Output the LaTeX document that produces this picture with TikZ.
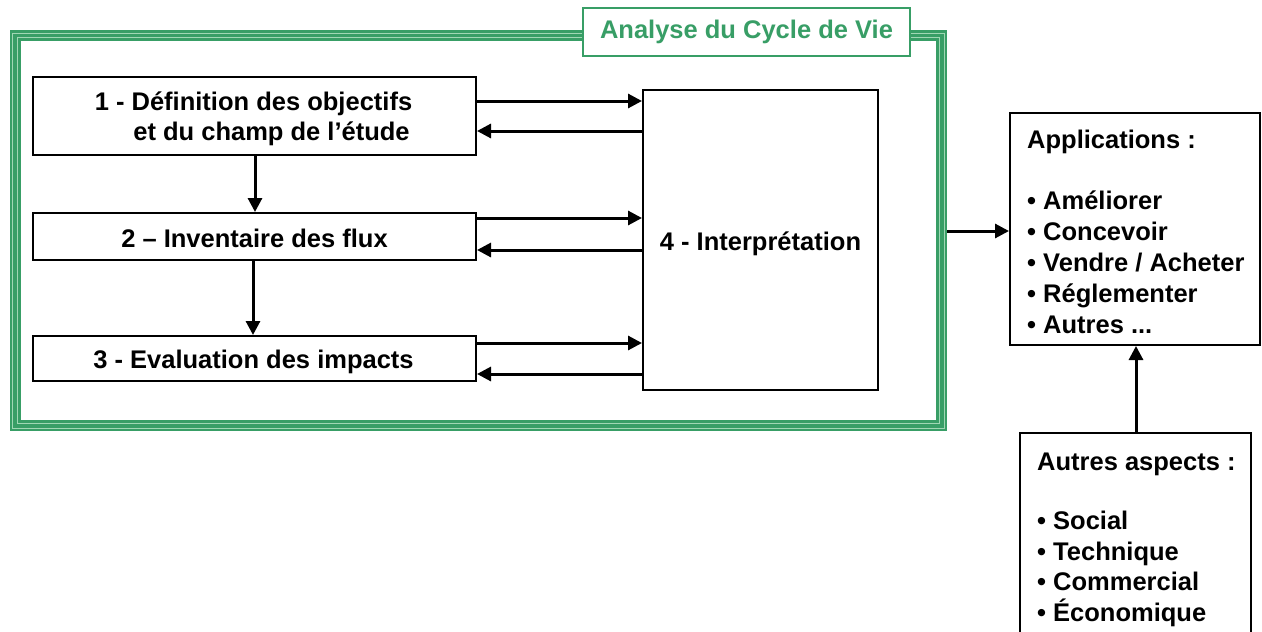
\documentclass[tikz,border=0pt]{standalone}
\usepackage{fontspec}
\setmainfont{Liberation Sans}
\usetikzlibrary{arrows.meta}
\definecolor{acvgreen}{RGB}{56,158,102}
\definecolor{acvlight}{RGB}{160,215,180}
\begin{document}
\begin{tikzpicture}[x=1pt,y=-1pt,
 box/.style={draw=black,line width=2pt,inner sep=0pt,fill=white},
 txt/.style={font=\fontsize{25.5}{31}\selectfont\bfseries,inner sep=0pt},
 arr/.style={line width=3pt,-{Triangle[length=14pt,width=14pt]}}
]
\useasboundingbox (0,0) rectangle (1262,632);
% green frame
\node[draw=acvgreen,line width=11pt,inner sep=0pt,outer sep=5.5pt,minimum width=926.5pt,minimum height=390pt] (frame) at (478.25,230.5) {};
\draw[acvlight,line width=0.8pt] (12.5,33) rectangle (944,428);
\draw[acvlight,line width=0.8pt] (17,37.5) rectangle (939.5,423.5);
\node[draw=acvgreen,line width=1.2pt,fill=white,minimum width=327pt,minimum height=48pt,inner sep=0pt,txt,text=acvgreen] (title) at (746.5,32) {Analyse du Cycle de Vie};
% boxes
\node[box,minimum width=443pt,minimum height=78pt] (b1) at (254.5,116) {};
\node[box,minimum width=443pt,minimum height=47pt] (b2) at (254.5,236.5) {};
\node[box,minimum width=443pt,minimum height=45pt] (b3) at (254.5,358.5) {};
\node[box,minimum width=235pt,minimum height=300pt] (b4) at (760.5,240) {};
\node[box,minimum width=250pt,minimum height=232pt] (apps) at (1135,229) {};
\node[box,minimum width=231pt,minimum height=214pt] (autres) at (1135.5,540) {};
% texts
\node[txt,anchor=base] (t1a) at (253.5,110) {1 - Définition des objectifs};
\node[txt,anchor=base] (t1b) at (271.5,140) {et du champ de l’étude};
\node[txt,anchor=base] (t2) at (254.5,247) {2 – Inventaire des flux};
\node[txt,anchor=base] (t3) at (253.5,368) {3 - Evaluation des impacts};
\node[txt,anchor=base] (t4) at (760.5,250) {4 - Interprétation};
\node[txt,anchor=base west] (a0) at (1027,148) {Applications :};
\node[txt,anchor=base west] (a1) at (1027,209) {• Améliorer};
\node[txt,anchor=base west] (a2) at (1027,240) {• Concevoir};
\node[txt,anchor=base west] (a3) at (1027,271) {• Vendre / Acheter};
\node[txt,anchor=base west] (a4) at (1027,302) {• Réglementer};
\node[txt,anchor=base west] (a5) at (1027,333) {• Autres ...};
\node[txt,anchor=base west] (o0) at (1037,470) {Autres aspects :};
\node[txt,anchor=base west] (o1) at (1037,529) {• Social};
\node[txt,anchor=base west] (o2) at (1037,560) {• Technique};
\node[txt,anchor=base west] (o3) at (1037,590) {• Commercial};
\node[txt,anchor=base west] (o4) at (1037,621) {• Économique};
% arrows
\draw[arr] (b1.east |- 0,101) -- (b4.west |- 0,101);
\draw[arr] (b4.west |- 0,131) -- (b1.east |- 0,131);
\draw[arr] (b2.east |- 0,218) -- (b4.west |- 0,218);
\draw[arr] (b4.west |- 0,250) -- (b2.east |- 0,250);
\draw[arr] (b3.east |- 0,343) -- (b4.west |- 0,343);
\draw[arr] (b4.west |- 0,374) -- (b3.east |- 0,374);
\draw[arr] (b1.south -| 255,0) -- (b2.north -| 255,0);
\draw[arr] (b2.south -| 253,0) -- (b3.north -| 253,0);
\draw[arr] (frame.east |- 0,231) -- (apps.west |- 0,231);
\draw[arr] (autres.north -| 1136,0) -- (apps.south -| 1136,0);
\end{tikzpicture}
\end{document}
